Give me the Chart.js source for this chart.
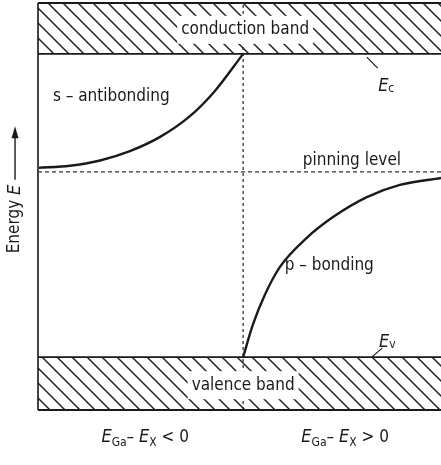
<!DOCTYPE html>
<html lang="en">
<head>
  <meta charset="UTF-8">
  <title>Pinning level</title>
  <script src="https://cdn.jsdelivr.net/npm/chart.js"></script>
  <style>
    body { margin: 0; background: #fff; }
    canvas { display: block; }
  </style>
</head>
<body>
  <canvas id="grafico" width="441" height="465"></canvas>

  <script>
    // energy levels, arbitrary units (0 = bottom of valence box, 10 = top of conduction box)
    const E_TOP = 10, E_C = 8.75, E_PIN = 5.85, E_V = 1.3, E_BOTTOM = 0;
    // x: 0 = left edge, 1 = right edge, divider where E_Ga - E_X = 0
    const X_LEFT = 0, X_MID = 0.509, X_RIGHT = 1;

    // s - antibonding state
    const sX = [0, 0.079, 0.154, 0.228, 0.303, 0.377, 0.439, 0.509];
    const sE = [5.95, 6.00, 6.13, 6.36, 6.71, 7.22, 7.84, 8.75];
    // p - bonding state
    const pX = [0.509, 0.533, 0.563, 0.600, 0.667, 0.732, 0.816, 0.898, 1.0];
    const pE = [1.3, 2.09, 2.83, 3.51, 4.23, 4.74, 5.23, 5.53, 5.70];

    const FONT = '"Liberation Sans Narrow", "DejaVu Sans Condensed", sans-serif';
    const INK = '#1a1a1a';

    function pts(xs, ys) { return xs.map((x, i) => ({ x: x, y: ys[i] })); }

    function hatch() {
      const s = 15;
      const c = document.createElement('canvas');
      c.width = s; c.height = s;
      const g = c.getContext('2d');
      g.strokeStyle = '#222';
      g.lineWidth = 1.5;
      g.beginPath();
      g.moveTo(-2, -2); g.lineTo(s + 2, s + 2);
      g.moveTo(s - 2, -2); g.lineTo(s + 2, 2);
      g.moveTo(-2, s - 2); g.lineTo(2, s + 2);
      g.stroke();
      return g.createPattern(c, 'repeat');
    }
    const rayado = hatch();

    function linea(data, extra) {
      return Object.assign({
        data: data, borderColor: INK, borderWidth: 2, pointRadius: 0,
        fill: false, tension: 0, clip: false
      }, extra || {});
    }

    // draws a row of text pieces (font, offset) centred or left aligned
    function rich(ctx, parts, x, y, align) {
      let w = 0;
      parts.forEach(p => { ctx.font = p.f; w += ctx.measureText(p.t).width; });
      let cx = align === 'center' ? x - w / 2 : x;
      parts.forEach(p => {
        ctx.font = p.f;
        ctx.fillText(p.t, cx, y + (p.dy || 0));
        cx += ctx.measureText(p.t).width;
      });
      return w;
    }

    const textos = {
      id: 'textos',
      afterDatasetsDraw(chart) {
        const ctx = chart.ctx;
        const X = v => chart.scales.x.getPixelForValue(v);
        const Y = v => chart.scales.y.getPixelForValue(v);
        const reg = '17px ' + FONT, ita = 'italic 18px ' + FONT, sub = '12px ' + FONT;
        ctx.save();
        ctx.fillStyle = INK;
        ctx.strokeStyle = INK;
        ctx.textBaseline = 'middle';

        // band names on white
        [['conduction band', 0.514, 9.34], ['valence band', 0.509, 0.61]].forEach(b => {
          ctx.font = reg;
          const w = ctx.measureText(b[0]).width;
          ctx.fillStyle = '#fff';
          ctx.fillRect(X(b[1]) - w / 2 - 4, Y(b[2]) - 14, w + 8, 28);
          ctx.fillStyle = INK;
          ctx.textAlign = 'center';
          ctx.fillText(b[0], X(b[1]), Y(b[2]));
        });

        ctx.textAlign = 'left';
        ctx.font = reg;
        ctx.fillText('s \u2013 antibonding', X(0.037), Y(7.69));
        ctx.fillText('p \u2013 bonding', X(0.612), Y(3.56));
        ctx.textAlign = 'center';
        ctx.fillText('pinning level', X(0.779), Y(6.14));
        ctx.textAlign = 'left';

        // Ec, Ev with leaders
        ctx.lineWidth = 1.2;
        ctx.beginPath();
        ctx.moveTo(X(0.816), Y(8.67)); ctx.lineTo(X(0.843), Y(8.40));
        ctx.moveTo(X(0.826), Y(1.28)); ctx.lineTo(X(0.854), Y(1.52));
        ctx.stroke();
        ctx.textBaseline = 'alphabetic';
        rich(ctx, [{ t: 'E', f: ita }, { t: 'c', f: sub, dy: 1 }], X(0.844), Y(7.84), 'left');
        rich(ctx, [{ t: 'E', f: ita }, { t: 'v', f: sub, dy: 1 }], X(0.846), Y(1.55), 'left');

        // bottom conditions
        const cond = s => [
          { t: 'E', f: ita }, { t: 'Ga', f: sub, dy: 4 }, { t: '\u2013 ', f: reg },
          { t: 'E', f: ita }, { t: 'X', f: sub, dy: 4 }, { t: ' ' + s + ' 0', f: reg }
        ];
        rich(ctx, cond('<'), X(0.266), Y(-0.79), 'center');
        rich(ctx, cond('>'), X(0.762), Y(-0.79), 'center');

        // vertical axis label with arrow
        ctx.translate(X(-0.057), Y(3.85));
        ctx.rotate(-Math.PI / 2);
        ctx.textBaseline = 'middle';
        const w = rich(ctx, [{ t: 'Energy ', f: reg }, { t: 'E', f: ita }], 0, 0, 'left');
        ctx.lineWidth = 1.4;
        ctx.beginPath();
        ctx.moveTo(w + 5, 0); ctx.lineTo(118, 0);
        ctx.stroke();
        ctx.beginPath();
        ctx.moveTo(127, 0); ctx.lineTo(115, -3.5); ctx.lineTo(115, 3.5);
        ctx.closePath();
        ctx.fill();
        ctx.restore();
      }
    };

    new Chart(document.getElementById('grafico'), {
      type: 'line',
      data: {
        datasets: [
          linea([{ x: X_LEFT, y: E_C }, { x: X_RIGHT, y: E_C }],
            { fill: 'end', backgroundColor: rayado, borderWidth: 1.6 }),
          linea([{ x: X_LEFT, y: E_V }, { x: X_RIGHT, y: E_V }],
            { fill: 'start', backgroundColor: rayado, borderWidth: 1.6 }),
          linea([{ x: X_LEFT, y: E_TOP }, { x: X_RIGHT, y: E_TOP }]),
          linea([{ x: X_LEFT, y: E_BOTTOM }, { x: X_RIGHT, y: E_BOTTOM }]),
          linea([{ x: X_LEFT, y: E_BOTTOM }, { x: X_LEFT, y: E_TOP }], { borderColor: '#444' }),
          linea([{ x: X_LEFT, y: E_PIN }, { x: X_RIGHT, y: E_PIN }],
            { borderDash: [4, 3], borderWidth: 1.3, borderColor: '#333' }),
          linea([{ x: X_MID, y: E_BOTTOM }, { x: X_MID, y: E_TOP }],
            { borderDash: [3, 3], borderWidth: 1.3, borderColor: '#333' }),
          linea(pts(sX, sE), { borderWidth: 2.4, cubicInterpolationMode: 'monotone' }),
          linea(pts(pX, pE), { borderWidth: 2.4, cubicInterpolationMode: 'monotone' })
        ]
      },
      options: {
        responsive: false,
        animation: false,
        layout: { padding: { left: 38, top: 3, right: 0, bottom: 55 } },
        scales: {
          x: { type: 'linear', min: X_LEFT, max: X_RIGHT, display: false },
          y: { min: E_BOTTOM, max: E_TOP, display: false }
        },
        plugins: { legend: { display: false }, tooltip: { enabled: false } }
      },
      plugins: [textos]
    });
  </script>
</body>
</html>
